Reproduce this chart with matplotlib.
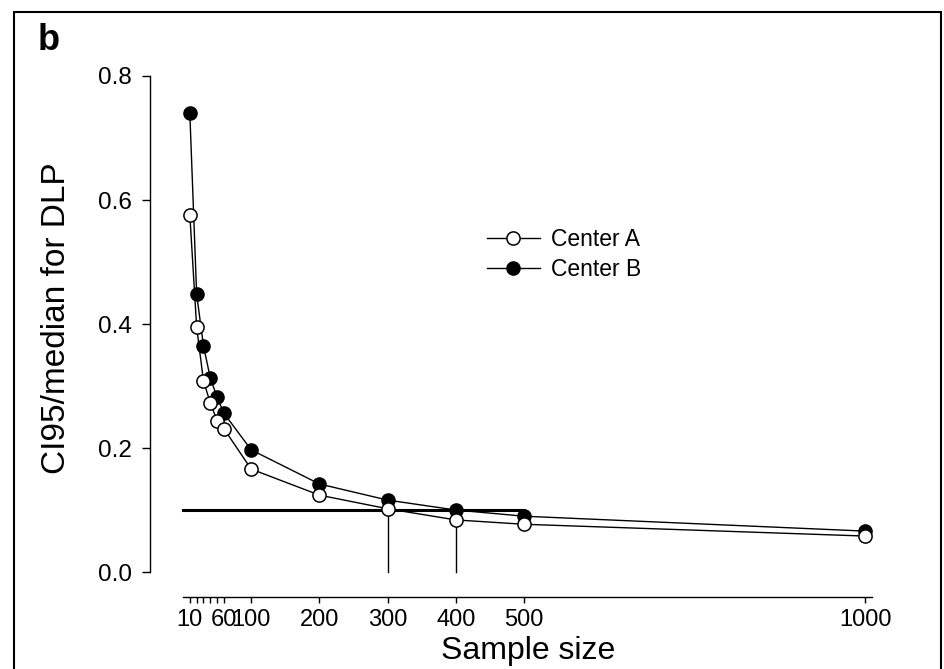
import matplotlib.pyplot as plt
from matplotlib.patches import Rectangle

plt.rcParams['font.family'] = ['Liberation Sans', 'DejaVu Sans']

# sample sizes and CI95/median values
sample_size = [10, 20, 30, 40, 50, 60, 100, 200, 300, 400, 500, 1000]
center_a = [0.576, 0.395, 0.308, 0.273, 0.244, 0.231, 0.166, 0.124, 0.102, 0.084, 0.077, 0.058]
center_b = [0.740, 0.448, 0.365, 0.313, 0.282, 0.256, 0.197, 0.142, 0.116, 0.100, 0.090, 0.066]

xticks = [10, 20, 30, 40, 50, 60, 100, 200, 300, 400, 500, 1000]
xticklabels = ['10', '', '', '', '', '60', '100', '200', '300', '400', '500', '1000']
yticks = [0.0, 0.2, 0.4, 0.6, 0.8]
threshold = 0.1
threshold_end = 500
cut_points = [300, 400]

fig = plt.figure(figsize=(9.45, 6.69), dpi=100)
W, H = 945, 669

# axes placed in pixel terms (left 150, right 873, top 76, bottom 597)
ax = fig.add_axes([150 / W, 1 - 597 / H, 723 / W, 521 / H])
ax.set_xlim(-48.4, 1011.7)
ax.set_ylim(-0.0403, 0.8)

ax.plot(sample_size, center_b, '-', color='black', lw=1.0, zorder=2)
ax.plot(sample_size, center_a, '-', color='black', lw=1.0, zorder=2)

# threshold line and the two drop lines
ax.plot([0, threshold_end], [threshold, threshold], color='black', lw=2.2, zorder=2.5)
for c in cut_points:
    ax.plot([c, c], [0, threshold], color='black', lw=1.0, zorder=2.5)

ax.plot(sample_size, center_b, 'o', color='black', ms=9.5, zorder=3, clip_on=False)
ax.plot(sample_size, center_a, 'o', mfc='white', mec='black', mew=1.1, ms=9.5,
        zorder=3, clip_on=False)

# legend
la, = ax.plot([], [], '-o', color='black', mfc='white', mec='black', mew=1.1, ms=9.5, lw=1.0,
              label='Center A')
lb, = ax.plot([], [], '-o', color='black', ms=9.5, lw=1.0, label='Center B')
fig.legend(handles=[la, lb], loc='upper left', bbox_to_anchor=(487 / W, 1 - 228 / H),
           frameon=False, fontsize=16.5, handlelength=2.3, handletextpad=0.48,
           labelspacing=0.3, borderpad=0, borderaxespad=0)

# R-style detached axes
for s in ['top', 'right']:
    ax.spines[s].set_visible(False)
ax.spines['left'].set_bounds(0, 0.8)
ax.spines['bottom'].set_bounds(0, 1010)
ax.spines['left'].set_linewidth(1.0)
ax.spines['bottom'].set_linewidth(1.0)

ax.set_yticks(yticks)
ax.set_yticklabels([f'{v:.1f}' for v in yticks])
ax.set_xticks(xticks)
ax.set_xticklabels(xticklabels)
ax.tick_params(axis='y', length=5.8, width=1.0, pad=7, labelsize=17.5)
ax.tick_params(axis='x', length=4.3, width=1.0, pad=4.5, labelsize=17)

fig.text(57 / W, 1 - 318 / H, 'CI95/median for DLP', rotation=90, ha='center', va='center',
         fontsize=24)
fig.text(528 / W, 1 - 651 / H, 'Sample size', ha='center', va='center', fontsize=23)
fig.text(38 / W, 1 - 50 / H, 'b', ha='left', va='baseline', fontsize=26, fontweight='bold')

# frame round the panel
fig.patches.append(Rectangle((14 / W, -0.01), (941 - 14) / W, 1 - 12 / H + 0.01,
                             transform=fig.transFigure, fill=False, ec='black', lw=1.5))

fig.savefig('out.png', dpi=100)
